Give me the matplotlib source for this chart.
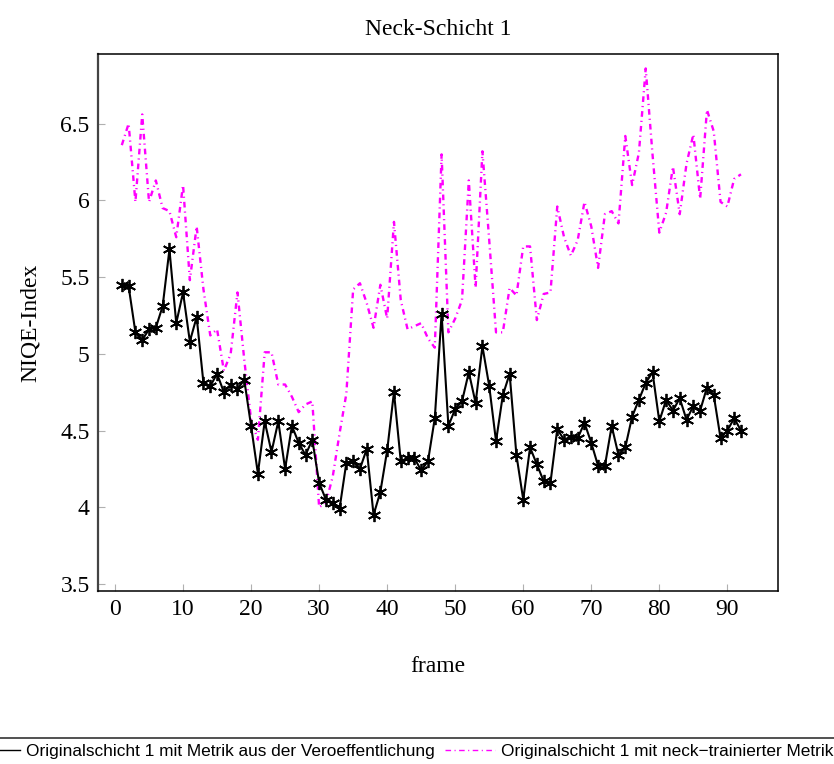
import matplotlib
matplotlib.use("Agg")
import matplotlib.pyplot as plt
from matplotlib.lines import Line2D
from matplotlib import font_manager

frames = list(range(1, 93))

niqe_paper = [
    5.45, 5.44, 5.14, 5.09, 5.16, 5.17, 5.31, 5.68, 5.20, 5.40,
    5.08, 5.24, 4.81, 4.79, 4.87, 4.75, 4.80, 4.77, 4.83, 4.53,
    4.22, 4.56, 4.36, 4.56, 4.25, 4.53, 4.42, 4.34, 4.44, 4.16,
    4.05, 4.03, 3.99, 4.29, 4.30, 4.25, 4.38, 3.95, 4.10, 4.37,
    4.75, 4.30, 4.32, 4.32, 4.24, 4.30, 4.58, 5.26, 4.53, 4.64,
    4.69, 4.88, 4.68, 5.05, 4.79, 4.43, 4.73, 4.87, 4.34, 4.05,
    4.39, 4.28, 4.17, 4.16, 4.51, 4.44, 4.46, 4.45, 4.55, 4.42,
    4.27, 4.27, 4.53, 4.34, 4.39, 4.59, 4.70, 4.81, 4.88, 4.56,
    4.70, 4.63, 4.71, 4.57, 4.66, 4.63, 4.78, 4.73, 4.45, 4.50,
    4.58, 4.50,
]

niqe_neck = [
    6.36, 6.50, 5.99, 6.56, 5.99, 6.13, 5.95, 5.93, 5.76, 6.10,
    5.48, 5.83, 5.42, 5.12, 5.16, 4.89, 5.00, 5.40, 4.96, 4.57,
    4.44, 5.01, 5.01, 4.80, 4.80, 4.72, 4.62, 4.67, 4.69, 4.00,
    4.03, 4.20, 4.48, 4.74, 5.42, 5.46, 5.33, 5.17, 5.45, 5.23,
    5.86, 5.35, 5.16, 5.18, 5.20, 5.10, 5.04, 6.30, 5.14, 5.23,
    5.35, 6.13, 5.43, 6.32, 5.74, 5.14, 5.14, 5.43, 5.38, 5.70,
    5.70, 5.22, 5.39, 5.40, 5.96, 5.76, 5.64, 5.74, 5.99, 5.83,
    5.56, 5.91, 5.93, 5.85, 6.42, 6.10, 6.31, 6.86, 6.30, 5.79,
    5.92, 6.22, 5.91, 6.24, 6.43, 6.01, 6.59, 6.45, 5.99, 5.96,
    6.14, 6.17,
]

x_ticks = [0, 10, 20, 30, 40, 50, 60, 70, 80, 90]
y_ticks = [3.5, 4, 4.5, 5, 5.5, 6, 6.5]
y_tick_labels = ["3.5", "4", "4.5", "5", "5.5", "6", "6.5"]

label_paper = "Originalschicht 1 mit Metrik aus der Veroeffentlichung"
label_neck = "Originalschicht 1 mit neck\u2212trainierter Metrik"

serif = ["Liberation Serif", "DejaVu Serif"]
names = {f.name for f in font_manager.fontManager.ttflist}
if "Liberation Sans Narrow" in names:
    legend_font = {"family": ["Liberation Sans Narrow", "DejaVu Sans"], "size": 14.5}
else:
    legend_font = {"family": ["Liberation Sans", "DejaVu Sans"], "size": 12.4}

neck_dashes = (2.4, 1.7, 0.5, 1.7)

fig = plt.figure(figsize=(8.34, 7.64), dpi=100)
ax = fig.add_axes([0.1175, 0.2264, 0.815, 0.7025])

ax.plot(frames, niqe_paper, color="black", lw=1.5,
        marker=(6, 2, 0), markersize=9.5, markeredgewidth=1.3,
        label=label_paper, zorder=3)
ax.plot(frames, niqe_neck, color="#ff00ff", lw=1.7,
        dashes=neck_dashes, label=label_neck, zorder=2)

ax.set_xlim(-2.5, 97.4)
ax.set_ylim(3.454, 6.952)
ax.set_xticks(x_ticks)
ax.set_yticks(y_ticks)
ax.set_yticklabels(y_tick_labels)
ax.tick_params(direction="in", length=5, width=0.8, color="#b0b0b0",
               labelsize=17, pad=6, top=False, right=False)
for lbl in ax.get_xticklabels() + ax.get_yticklabels():
    lbl.set_family(serif)
for sp in ax.spines.values():
    sp.set_linewidth(1.1)
ax.spines["left"].set_color("#444444")
ax.spines["left"].set_linewidth(1.6)

ax.set_title("Neck-Schicht 1", fontsize=17, family=serif, pad=14)
ax.set_xlabel("frame", fontsize=17, family=serif, labelpad=26)
ax.set_ylabel("NIQE-Index", fontsize=17, family=serif, labelpad=14)

# separator rule above the legend
fig.add_artist(Line2D([0, 1], [1 - 738 / 764, 1 - 738 / 764],
                      transform=fig.transFigure, color="#333333", lw=1.2))

handles = [Line2D([], [], color="black", lw=1.0),
           Line2D([], [], color="#ff00ff", lw=1.0, dashes=(4, 2.5, 0.8, 2.5))]
labels = [label_paper, label_neck]
fig.legend(handles, labels, loc="center left",
           bbox_to_anchor=(-30 / 834, 1 - 751 / 764),
           ncol=2, frameon=False, prop=legend_font,
           handlelength=2.9, handletextpad=0.35, columnspacing=0.6,
           borderaxespad=0, borderpad=0)

fig.savefig("out.png", dpi=100)
